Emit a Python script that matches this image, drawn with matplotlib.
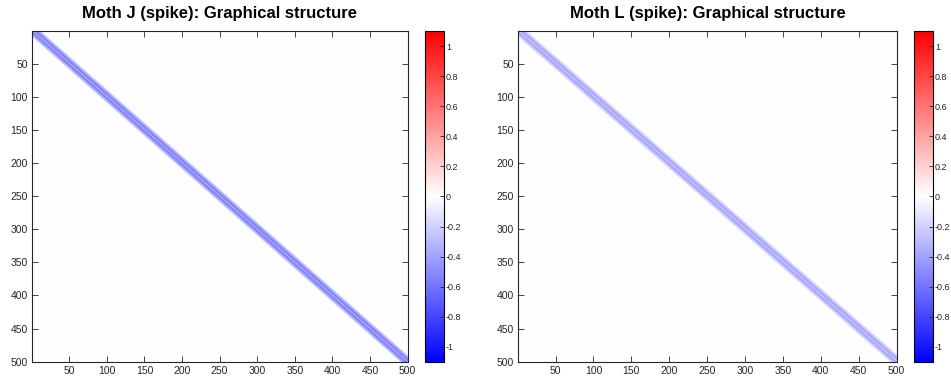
import numpy as np
import matplotlib
matplotlib.use("Agg")
import matplotlib.pyplot as plt

plt.rcParams['font.family'] = ['Liberation Sans', 'DejaVu Sans']

N = 500
titles = ["Moth J (spike): Graphical structure", "Moth L (spike): Graphical structure"]
band_offsets = [1, 2, 3, 4, 5, 6, 7, 8, 9, 10]
band_values_J = [-0.58, -0.56, -0.53, -0.50, -0.46, -0.41, -0.35, -0.28, -0.20, -0.11]
band_values_L = [-0.40, -0.39, -0.37, -0.35, -0.32, -0.28, -0.24, -0.19, -0.13, -0.07]
ticks = [50, 100, 150, 200, 250, 300, 350, 400, 450, 500]
cbar_ticks = [-1, -0.8, -0.6, -0.4, -0.2, 0, 0.2, 0.4, 0.6, 0.8, 1]
cbar_labels = ['-1', '-0.8', '-0.6', '-0.4', '-0.2', '0', '0.2', '0.4', '0.6', '0.8', '1']
clim = 1.1


def build(vals):
    M = np.zeros((N, N))
    for k, v in zip(band_offsets, vals):
        M += np.diag(np.full(N - k, v), k) + np.diag(np.full(N - k, v), -k)
    return M


W, H = 951, 380
fig = plt.figure(figsize=(W / 100, H / 100), dpi=100)

layouts = [
    (32, 408, 425, 444),
    (518, 897, 914, 933),
]
top, bottom = 31, 362

for (ax_l, ax_r, cb_l, cb_r), title, vals in zip(layouts, titles, [band_values_J, band_values_L]):
    ax = fig.add_axes([ax_l / W, 1 - bottom / H, (ax_r - ax_l) / W, (bottom - top) / H])
    M = build(vals)
    im = ax.imshow(M, cmap='bwr', vmin=-clim, vmax=clim, aspect='auto',
                   extent=(0.5, N + 0.5, N + 0.5, 0.5), interpolation='antialiased')
    ax.set_xticks(ticks)
    ax.set_yticks(ticks)
    ax.tick_params(direction='in', top=True, right=True, labelsize=7.5, length=4,
                   colors='#262626', width=0.6, pad=3)
    ax.set_title(title, fontsize=12, fontweight='bold', pad=9)
    for s in ax.spines.values():
        s.set_linewidth(0.8)
        s.set_color('#262626')
    cax = fig.add_axes([cb_l / W, 1 - bottom / H, (cb_r - cb_l) / W, (bottom - top) / H])
    cb = fig.colorbar(im, cax=cax)
    cb.set_ticks(cbar_ticks)
    cb.set_ticklabels(cbar_labels)
    cax.tick_params(direction='in', labelsize=6.5, length=3, colors='#262626', width=0.6, pad=1.5)
    cb.outline.set_linewidth(0.8)

fig.savefig("out.png", dpi=100)
